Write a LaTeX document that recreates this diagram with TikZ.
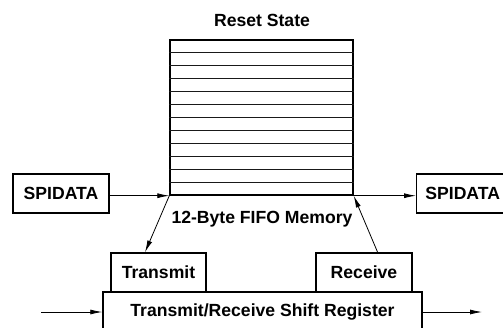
\documentclass[tikz,border=0pt]{standalone}
\usepackage{fontspec}
\setmainfont{Liberation Sans}
\usetikzlibrary{arrows.meta,calc}
\tikzset{
  box/.style={draw=black, line width=1.4pt, inner sep=0pt, font=\fontsize{17.6}{19}\selectfont\bfseries},
  lbl/.style={inner sep=0pt, font=\fontsize{17.6}{19}\selectfont\bfseries},
  arr/.style={line width=0.8pt, -{Latex[length=12pt,width=5pt]}},
  row/.style={line width=0.9pt}
}
\begin{document}
\begin{tikzpicture}[x=1pt,y=-1pt]
\useasboundingbox (0,0) rectangle (503,327);
\clip (0,0) rectangle (503,327);
% FIFO
\node[box, minimum width=183pt, minimum height=155pt] (fifo) at (261.5,117.5) {};
\foreach \i in {1,...,11} {
  \draw[row, draw=black!\ifodd\i 60\else 90\fi] ($(fifo.north west)!\i/12!(fifo.south west)$) -- ($(fifo.north east)!\i/12!(fifo.south east)$);
}
\node[lbl] (reset) at (262,20) {Reset State};
\node[lbl] (mem) at (262,219) {12-Byte FIFO Memory};
% SPIDATA boxes
\node[box, minimum width=96pt, minimum height=39pt] (spl) at (61,193.5) {SPIDATA};
\node[box, minimum width=100pt, minimum height=39pt, anchor=west] (spr) at (416,193.5) {\hspace*{-8pt}SPIDATA};
% Transmit / Receive
\node[box, minimum width=95pt, minimum height=39pt] (tx) at (158.5,272.5) {Transmit};
\node[box, minimum width=96pt, minimum height=39pt] (rx) at (364,272.5) {Receive};
% Shift register
\node[box, minimum width=319pt, minimum height=40pt] (sr) at (262.5,312) {Transmit/Receive Shift Register};
\coordinate (inL) at (41,312);
\coordinate (outR) at (482,312);
% connectors
\draw[arr] (spl.east |- fifo.south west) -- (fifo.south west);
\draw[arr] (fifo.south east) -- (spr.west |- fifo.south east);
\draw[arr] (fifo.south west) -- ($(tx.north west)!0.36!(tx.north east)$);
\draw[arr] ($(rx.north west)!0.64!(rx.north east)$) -- (fifo.south east);
\draw[arr] (inL) -- (sr.west);
\draw[arr] (sr.east) -- (outR);
\end{tikzpicture}
\end{document}
